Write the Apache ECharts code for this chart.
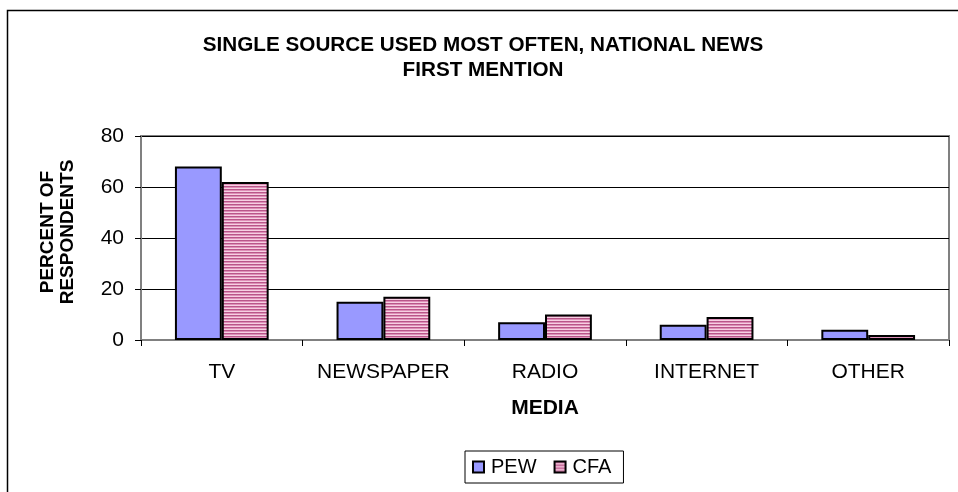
<!DOCTYPE html>
<html>
<head>
<meta charset="utf-8">
<script src="https://cdn.jsdelivr.net/npm/echarts@6/dist/echarts.min.js"></script>
<style>
  html, body { margin: 0; padding: 0; background: #fff; }
  #chart { width: 958px; height: 492px; }
</style>
</head>
<body>
<div id="chart"></div>
<script>
// Survey results: single source used most often for national news
const categories = ['TV', 'NEWSPAPER', 'RADIO', 'INTERNET', 'OTHER'];
const pewValues = [68, 15, 7, 6, 4];
const cfaValues = [62, 17, 10, 9, 2];
const yTicks = { min: 0, max: 80, interval: 20 };

// Horizontal pink stripe fill for the CFA bars
function stripePattern() {
  const c = document.createElement('canvas');
  c.width = 4; c.height = 3;
  const ctx = c.getContext('2d');
  ctx.fillStyle = '#b95689'; ctx.fillRect(0, 0, 4, 1);
  ctx.fillStyle = '#de8fb8'; ctx.fillRect(0, 1, 4, 1);
  ctx.fillStyle = '#f6d0e2'; ctx.fillRect(0, 2, 4, 1);
  return c;
}

const FONT = 'Arial, "Liberation Sans", sans-serif';
const chart = echarts.init(document.getElementById('chart'), null, { renderer: 'canvas' });

chart.setOption({
  backgroundColor: '#fff',
  animation: false,
  title: {
    text: 'SINGLE SOURCE USED MOST OFTEN, NATIONAL NEWS\nFIRST MENTION',
    left: 478, top: 28, textAlign: 'center',
    textStyle: { fontFamily: FONT, fontWeight: 'bold', fontSize: 20.7, lineHeight: 25, color: '#000' }
  },
  legend: {
    left: 465, top: 451,
    padding: [6, 12, 6, 7],
    borderColor: '#000', borderWidth: 1,
    itemWidth: 11, itemHeight: 11, itemGap: 17,
    icon: 'rect',
    textStyle: { fontFamily: FONT, fontSize: 20, color: '#000', padding: [0, 0, 0, 2] },
    data: ['PEW', 'CFA']
  },
  grid: {
    left: 141, top: 136, right: 9, bottom: 152,
    show: true, borderColor: '#808080', borderWidth: 2, backgroundColor: '#fff'
  },
  xAxis: {
    type: 'category',
    data: categories,
    name: 'MEDIA', nameLocation: 'middle', nameGap: 58,
    nameTextStyle: { fontFamily: FONT, fontWeight: 'bold', fontSize: 21, color: '#000' },
    axisLine: { lineStyle: { color: '#808080', width: 2 } },
    axisTick: { show: true, inside: false, length: 6, interval: 0, lineStyle: { color: '#000' } },
    axisLabel: { fontFamily: FONT, fontSize: 21, color: '#000', margin: 22, interval: 0, hideOverlap: false },
    splitLine: { show: false }
  },
  yAxis: {
    type: 'value',
    min: yTicks.min, max: yTicks.max, interval: yTicks.interval,
    axisLine: { show: true, lineStyle: { color: '#808080', width: 2 } },
    axisTick: { show: true, inside: false, length: 6, lineStyle: { color: '#000' } },
    axisLabel: { fontFamily: FONT, fontSize: 21, color: '#000', margin: 17 },
    splitLine: { show: true, lineStyle: { color: '#000', width: 1 } }
  },
  series: [
    {
      name: 'PEW', type: 'bar', data: pewValues,
      barGap: '0%', barCategoryGap: '42%',
      itemStyle: { color: '#9999ff', borderColor: '#000', borderWidth: 2 }
    },
    {
      name: 'CFA', type: 'bar', data: cfaValues,
      itemStyle: { color: { image: stripePattern(), repeat: 'repeat' }, borderColor: '#000', borderWidth: 2 }
    }
  ],
  graphic: [
    {
      // outer frame (top and left edges)
      type: 'polyline', silent: true,
      shape: { points: [[7.5, 492], [7.5, 10.5], [958, 10.5]] },
      style: { stroke: '#000', lineWidth: 1.5, fill: null }
    },
    {
      // value axis title, rotated
      type: 'text', silent: true,
      x: 58, y: 232, rotation: Math.PI / 2,
      style: {
        text: 'PERCENT OF\nRESPONDENTS',
        font: 'bold 19px ' + FONT, lineHeight: 20,
        fill: '#000', align: 'center', verticalAlign: 'middle'
      }
    }
  ]
});
</script>
</body>
</html>
